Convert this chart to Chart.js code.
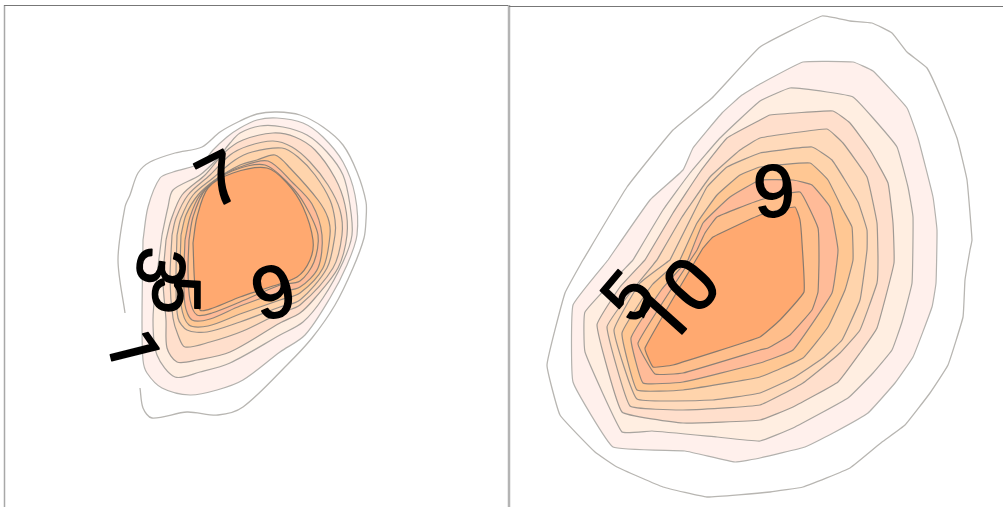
<!DOCTYPE html>
<html><head><meta charset="utf-8">
<style>html,body{margin:0;padding:0;background:#fff}canvas{display:block}</style>
<script src="https://cdn.jsdelivr.net/npm/chart.js@4/dist/chart.umd.min.js"></script>
</head><body><canvas id="c" width="1003" height="507"></canvas>
<script>
// Contour levels, outermost to innermost: [x, y]
const leftOuter=[[125,313],[118,260],[125,207],[130,195],[138,173],[150,162],[175,153],[202,147],[220,132],[240,121],[257,114],[277,112],[300,115],[323,127],[343,145],[357,172],[366,202],[366,220],[364,238],[353,268],[335,305],[312,338],[287,365],[243,407],[218,415],[187,412],[152,418],[143,408],[140,388]];
const leftL1=[[143,240],[148,207],[160,178],[173,172],[202,163],[213,150],[227,137],[240,128],[257,120],[277,118],[303,123],[323,137],[343,162],[355,195],[357,235],[347,265],[330,298],[305,335],[280,352],[243,380],[217,390],[190,395],[162,388],[147,373],[143,360],[142,320]];
const leftL2=[[162,235],[168,207],[173,190],[200,175],[218,158],[230,143],[240,133],[260,126],[283,127],[307,135],[327,152],[343,175],[350,205],[352,235],[343,262],[323,298],[303,322],[280,335],[230,363],[200,372],[175,377],[157,355],[153,320],[157,275]];
const leftL3=[[166,240],[171,220],[182,195],[205,175],[225,152],[243,140],[273,133],[295,137],[315,150],[335,178],[345,205],[347,235],[338,268],[315,298],[300,313],[280,323],[230,352],[197,360],[177,362],[167,348],[166,320],[163,280]];
const leftL4=[[172,235],[176,218],[188,195],[210,175],[230,155],[248,146],[273,141],[292,147],[310,162],[328,185],[340,210],[342,235],[333,268],[300,305],[280,313],[243,331],[210,342],[185,347],[178,335],[173,318],[170,280]];
const leftL5=[[177,235],[181,218],[193,195],[213,178],[235,160],[252,152],[282,148],[298,157],[315,175],[330,200],[335,220],[335,235],[327,268],[300,300],[280,307],[240,322],[207,332],[187,330],[178,318],[176,280]];
const leftL6=[[181,235],[186,215],[198,195],[215,180],[240,165],[257,160],[275,155],[290,168],[318,200],[328,218],[330,235],[323,268],[300,293],[280,300],[240,314],[208,326],[189,325],[181,305],[180,270]];
const leftL7=[[185,240],[190,217],[200,195],[218,178],[240,167],[268,161],[293,183],[312,204],[322,235],[318,268],[300,287],[280,292],[240,306],[210,319],[192,320],[185,305],[184,270]];
const leftL8=[[189,240],[193,217],[205,190],[232,171],[265,165],[290,185],[305,205],[318,235],[314,262],[300,281],[280,285],[240,302],[212,313],[197,315],[190,300],[188,270]];
const leftCore=[[193,243],[197,217],[208,188],[233,173],[267,168],[287,183],[303,207],[313,240],[310,260],[297,277],[267,288],[240,297],[213,308],[200,310],[195,287]];

const rightOuter=[[583,260],[627,187],[673,130],[712,98],[760,47],[822,16],[850,21],[872,23],[892,33],[907,52],[927,68],[942,100],[957,138],[967,180],[972,240],[970,250],[965,280],[963,317],[948,365],[930,393],[905,425],[882,442],[850,468],[803,487],[770,492],[707,497],[663,487],[617,467],[595,452],[560,415],[547,365],[565,293]];
const rightL1=[[608,260],[650,200],[683,170],[693,148],[722,113],[742,95],[760,84],[803,62],[853,62],[873,71],[907,108],[918,138],[933,197],[937,230],[936,283],[932,307],[913,357],[895,383],[868,413],[835,432],[805,447],[760,458],[735,462],[685,451],[613,447],[573,382],[573,305]];
const rightL2=[[633,260],[663,210],[690,173],[720,138],[760,101],[790,88],[827,92],[853,97],[873,118],[897,147],[908,187],[913,217],[912,283],[902,322],[892,350],[873,373],[848,398],[793,428],[760,441],[717,437],[652,431],[622,432],[585,352],[585,312]];
const rightL3=[[645,260],[673,213],[700,172],[727,138],[760,120],[770,115],[833,111],[850,123],[870,150],[888,183],[893,223],[894,263],[877,328],[860,353],[838,382],[793,407],[760,420],[683,423],[622,412],[597,325],[620,287]];
const rightL4=[[657,260],[682,217],[710,177],[740,150],[760,138],[827,129],[843,143],[867,177],[877,223],[878,260],[877,283],[860,330],[840,353],[803,383],[760,405],[683,410],[630,406],[607,327],[630,293]];
const rightL5=[[670,260],[690,220],[707,187],[727,167],[760,153],[812,147],[832,160],[858,202],[867,230],[867,250],[860,300],[842,340],[823,358],[793,378],[760,393],[713,400],[637,399],[614,330],[640,283]];
const rightL6=[[680,260],[697,223],[717,195],[740,175],[760,167],[810,163],[828,180],[843,210],[852,227],[853,260],[845,290],[828,327],[803,358],[760,377],[683,390],[637,390],[622,333],[652,285]];
const rightL7=[[688,260],[703,223],[730,197],[760,180],[793,180],[812,185],[830,207],[838,250],[832,293],[793,350],[760,363],[683,382],[643,383],[631,338],[662,289]];
const rightL8=[[697,250],[705,233],[717,217],[760,200],[800,192],[818,228],[819,260],[818,292],[812,310],[790,335],[768,348],[760,350],[683,373],[655,374],[638,343]];
const rightCore=[[703,248],[713,237],[760,215],[795,207],[800,220],[802,243],[804,292],[780,320],[760,337],[673,365],[653,367],[645,348]];

// Contour labels
const labelTexts=['7','3','5','9','1','9','5','10'];
const labelX=[219,162,177,273,134,774,627,677];
const labelY=[178,267,295,291,350,190,295,300];
const labelAngle=[-27,97,90,-15,76,-4,-50,-48];
const labelSize=[72,68,68,74,68,74,70,74];
const labelFont=['Liberation Sans','Liberation Sans','Liberation Sans','Liberation Sans','Roboto','Liberation Sans','Liberation Sans','Roboto'];

const bandColors=['#FFF0EC','#FFEEE1','#FFDFCC','#FFDABB','#FFD4AC','#FFC793','#FFBB98','#FFBE8B','#FFA970'];
const lineColors=['#b4b2ae','#a9a5a0','#a09a94','#9c958e','#98908a','#948a82','#90857c','#8c8076','#887a6e'];

const leftLevels=[leftL1,leftL2,leftL3,leftL4,leftL5,leftL6,leftL7,leftL8,leftCore];
const rightLevels=[rightL1,rightL2,rightL3,rightL4,rightL5,rightL6,rightL7,rightL8,rightCore];

const pts=(a,close)=>{const p=a.map(q=>({x:q[0],y:q[1]}));if(close)p.push({x:a[0][0],y:a[0][1]});return p;};
const datasets=[];
let order=100;
function addFrame(a,color,w){datasets.push({data:pts(a),showLine:true,fill:false,borderColor:color,borderWidth:w,pointRadius:0,tension:0,order:0});}
addFrame([[4,5.5],[508,5.5]],'#777777',1);
addFrame([[509,6.5],[1003,6.5]],'#777777',1);
addFrame([[4.5,5],[4.5,507]],'#a8a8a8',1.5);
addFrame([[509,5],[509,507]],'#b4b4b4',2.5);
function addPanel(outer,levels,closeOuter,smooth){
  datasets.push({data:pts(outer,closeOuter),showLine:true,fill:false,borderColor:'#b8b6b2',borderWidth:1.3,pointRadius:0,tension:smooth,order:order--});
  levels.forEach((l,i)=>datasets.push({data:pts(l,true),showLine:true,fill:'shape',backgroundColor:bandColors[i],borderColor:lineColors[i],borderWidth:1.2,pointRadius:0,tension:smooth,order:order--}));
}
addPanel(leftOuter,leftLevels,false,0.3);
addPanel(rightOuter,rightLevels,true,0.1);

const labelPlugin={id:'contourLabels',afterDatasetsDraw(chart){
  const {ctx,scales:{x,y}}=chart;
  labelTexts.forEach((t,i)=>{
    ctx.save();
    ctx.translate(x.getPixelForValue(labelX[i]),y.getPixelForValue(labelY[i]));
    ctx.rotate(labelAngle[i]*Math.PI/180);
    ctx.font=labelSize[i]+'px "'+labelFont[i]+'"';
    ctx.textAlign='center';ctx.textBaseline='alphabetic';
    ctx.fillStyle='#000';ctx.strokeStyle='#000';ctx.lineWidth=1.6;ctx.lineJoin='round';
    ctx.fillText(t,0,labelSize[i]*0.355);
    ctx.strokeText(t,0,labelSize[i]*0.355);
    ctx.restore();
  });
}};

new Chart(document.getElementById('c'),{
  type:'scatter',
  data:{datasets},
  plugins:[labelPlugin],
  options:{
    responsive:false,animation:false,
    layout:{padding:0},
    plugins:{legend:{display:false},tooltip:{enabled:false}},
    scales:{
      x:{type:'linear',min:0,max:1003,display:false},
      y:{type:'linear',min:0,max:507,reverse:true,display:false}
    }
  }
});
</script></body></html>
